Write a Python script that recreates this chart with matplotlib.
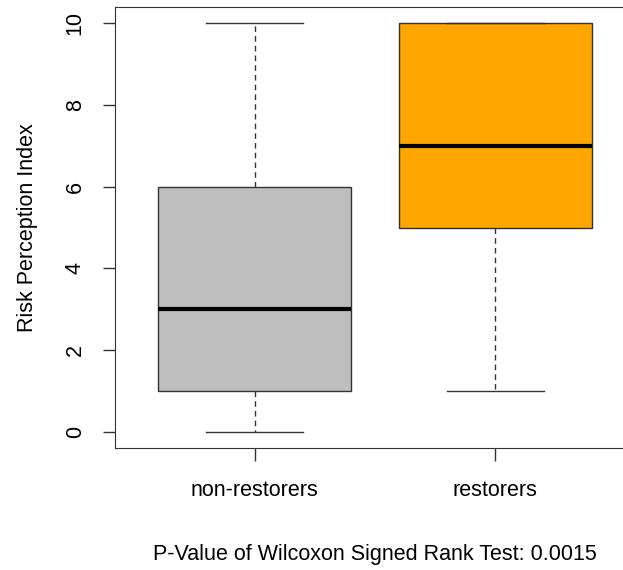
import matplotlib
matplotlib.use("Agg")
import matplotlib.pyplot as plt

plt.rcParams['font.family'] = ['Liberation Sans', 'DejaVu Sans']

groups = ["non-restorers", "restorers"]
mins = [0, 1]
q1s = [1, 5]
medians = [3, 7]
q3s = [6, 10]
maxs = [10, 10]
colors = ["#BEBEBE", "#FFA500"]

stats = []
for g, lo, a, m, b, hi in zip(groups, mins, q1s, medians, q3s, maxs):
    stats.append(dict(label=g, whislo=lo, q1=a, med=m, q3=b, whishi=hi, fliers=[]))

fig = plt.figure(figsize=(6.23, 5.7), dpi=100)
ax = fig.add_axes([115/623, 122/570, 520/623, 441/570])

bp = ax.bxp(stats, positions=[1, 2], widths=0.8, patch_artist=True,
            showfliers=False,
            boxprops=dict(edgecolor="#333333", linewidth=1),
            medianprops=dict(color="black", linewidth=3, solid_capstyle="butt"),
            whiskerprops=dict(color="#333333", linewidth=1, linestyle=(0, (4, 3))),
            capprops=dict(color="#333333", linewidth=1),
            capwidths=0.4)
for patch, c in zip(bp["boxes"], colors):
    patch.set_facecolor(c)

ax.set_xlim(0.42, 2.58)
ax.set_ylim(-0.4, 10.4)
ax.set_yticks([0, 2, 4, 6, 8, 10])
ax.set_xticks([1, 2])
ax.set_xticklabels(groups)
for s in ax.spines.values():
    s.set_color("#333333")
ax.tick_params(direction="out", length=9, width=1, color="#333333", labelsize=15.5, pad=12)
ax.tick_params(axis="x", pad=14)
for lab in ax.get_yticklabels():
    lab.set_rotation(90)
    lab.set_va("center")
ax.set_ylabel("Risk Perception Index", fontsize=15.5, labelpad=19)
ax.set_xlabel("P-Value of Wilcoxon Signed Rank Test: 0.0015", fontsize=15.5, labelpad=31)

fig.savefig("out.png", dpi=100)
